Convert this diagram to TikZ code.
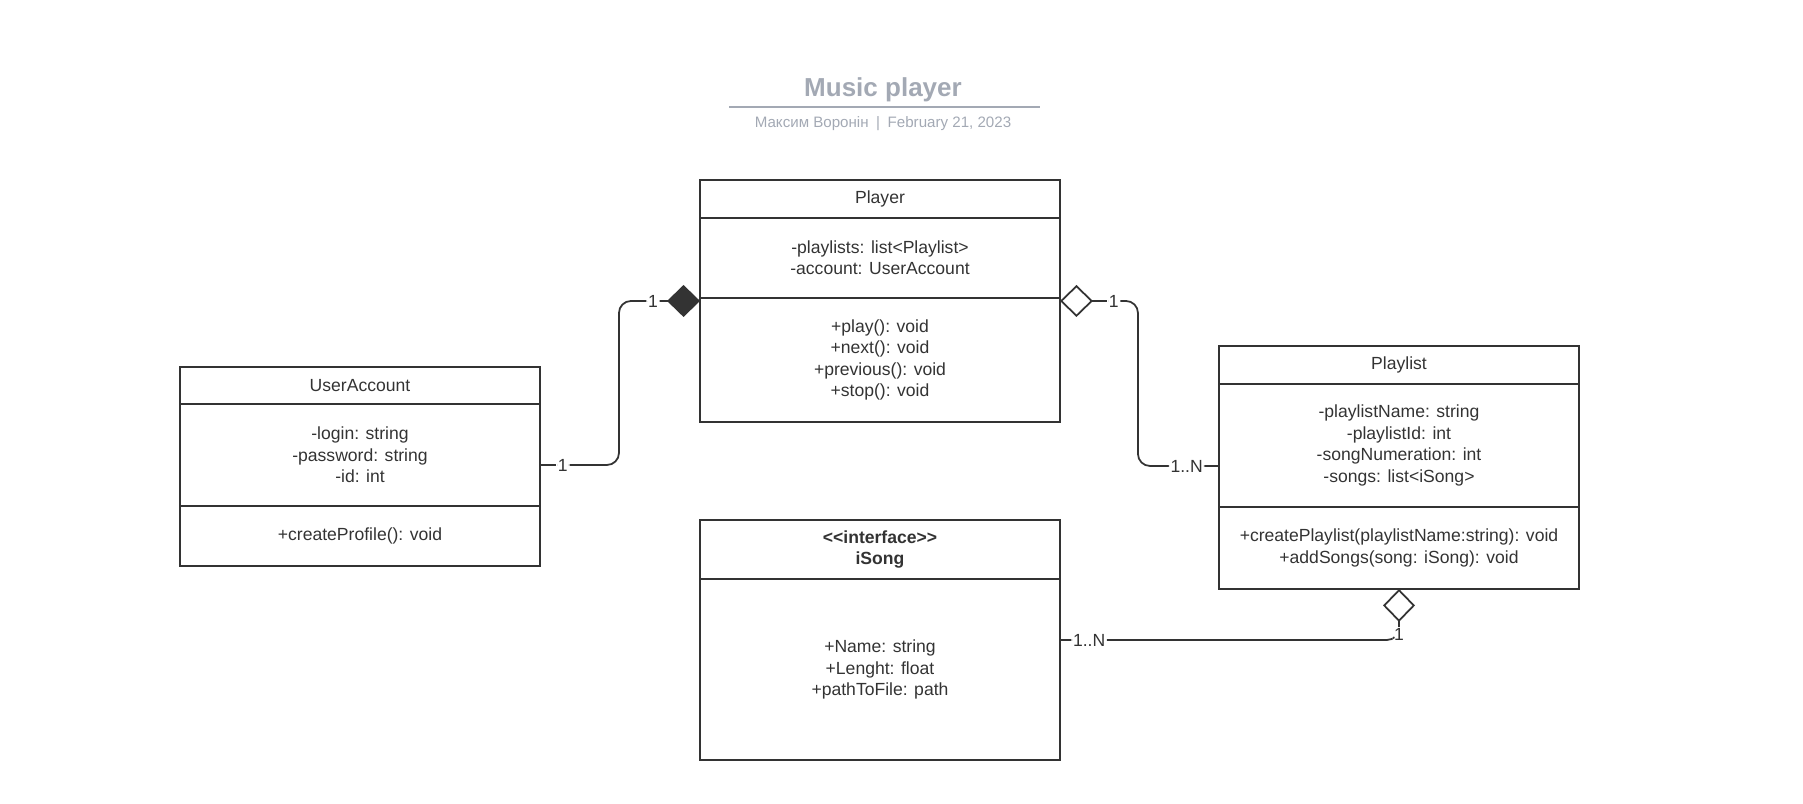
\documentclass[tikz,border=0pt]{standalone}
\usepackage{fontspec}
\setmainfont{Liberation Sans}
\usepackage{xcolor}
\usepackage{tikz}
\usetikzlibrary{arrows.meta,positioning}
\definecolor{umlgray}{HTML}{333333}
\definecolor{titlegray}{HTML}{A3A9B4}

\begin{document}
\begin{tikzpicture}[
    x=0.02cm, y=-0.02cm,
    font=\fontsize{10}{12.2}\selectfont,
    part/.style={rectangle, draw=umlgray, text=umlgray, line width=1pt, minimum width=7.2cm, inner sep=0pt, outer sep=0pt, align=center},
    link/.style={draw=umlgray, line width=1pt, rounded corners=0.24cm},
    mult/.style={fill=white, inner sep=1pt, text=umlgray},
    comp/.style={link, -{Diamond[length=0.66cm, width=0.64cm]}},
    aggr/.style={link, {Diamond[open, length=0.66cm, width=0.64cm]}-}
]
    \useasboundingbox (0,0) rectangle (1803,804);

    % Title
    \node[font=\fontsize{14.8}{17}\selectfont\bfseries, text=titlegray] (title) at (883,89.5) {Music player};
    \draw[titlegray, line width=0.9pt] (729,107) -- (1040,107);
    \node[font=\fontsize{8.6}{10}\selectfont, text=titlegray] (subtitle) at (883,124) {Максим Воронін\enspace|\enspace February 21, 2023};

    % Player
    \node[part, minimum height=0.76cm, anchor=north] (plhead) at (880,180) {Player};
    \node[part, minimum height=1.6cm, below=0pt of plhead] (plattr) {-playlists: list<Playlist>\\-account: UserAccount};
    \node[part, minimum height=2.48cm, below=0pt of plattr] (plmeth) {+play(): void\\+next(): void\\+previous(): void\\+stop(): void};

    % UserAccount
    \node[part, minimum height=0.74cm, anchor=north] (uahead) at (360,367) {UserAccount};
    \node[part, minimum height=2.04cm, below=0pt of uahead] (uaattr) {-login: string\\-password: string\\-id: int};
    \node[part, minimum height=1.2cm, below=0pt of uaattr] (uameth) {+createProfile(): void};

    % Playlist
    \node[part, minimum height=0.76cm, anchor=north] (lsthead) at (1399,346) {Playlist};
    \node[part, minimum height=2.46cm, below=0pt of lsthead] (lstattr) {-playlistName: string\\-playlistId: int\\-songNumeration: int\\-songs: list<iSong>};
    \node[part, minimum height=1.64cm, below=0pt of lstattr] (lstmeth) {+createPlaylist(playlistName:string): void\\+addSongs(song: iSong): void};

    % iSong
    \node[part, minimum height=1.18cm, anchor=north, font=\fontsize{10}{12.2}\selectfont\bfseries] (songhead) at (880,520) {<\kern0pt<interface>\kern0pt>\\iSong};
    \node[part, minimum height=3.62cm, below=0pt of songhead] (songattr) {+Name: string\\+Lenght: float\\+pathToFile: path};

    % Composition
    \draw[comp] ([yshift=-0.2cm]uaattr.east) -- node[mult, pos=0.29] {1} ++(79,0) |- node[mult, pos=0.71] {1} ([yshift=-0.06cm]plmeth.north west);

    % Aggregation
    \draw[aggr] ([yshift=-0.06cm]plmeth.north east) -- node[mult, pos=0.69] {1} ++(78,0) |- node[mult, pos=0.8] {1..N} ([yshift=-0.41cm]lstattr.west);
    \draw[aggr] (lstmeth.south) |- node[mult, pos=0.45] {1} node[mult, pos=0.957] {1..N} ([yshift=0.59cm]songattr.east);
\end{tikzpicture}
\end{document}
